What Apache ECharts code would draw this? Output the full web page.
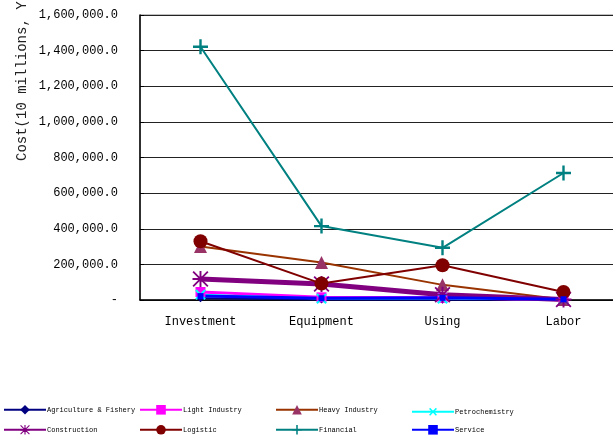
<!DOCTYPE html>
<html>
<head>
<meta charset="utf-8">
<script src="https://cdn.jsdelivr.net/npm/echarts@6/dist/echarts.min.js"></script>
<style>
  html, body { margin: 0; padding: 0; background: #fff; }
  #chart { width: 613px; height: 435px; }
</style>
</head>
<body>
<div id="chart"></div>
<script>
// categories on the x axis
var categories = ['Investment', 'Equipment', 'Using', 'Labor'];

// series values
var agriculture  = [10000, 3000, 2000, 1000];
var lightInd     = [45000, 15000, 12000, 2000];
var heavyInd     = [300000, 210000, 85000, 3000];
var petrochem    = [30000, 8000, 8000, 3000];
var construction = [118000, 90000, 30000, 3000];
var logistic     = [330000, 92000, 195000, 45000];
var financial    = [1422000, 415000, 293000, 713000];
var service      = [22000, 10000, 12000, 4000];

var names = ['Agriculture & Fishery', 'Light Industry', 'Heavy Industry', 'Petrochemistry',
             'Construction', 'Logistic', 'Financial', 'Service'];

var FONT = 'Liberation Mono';
var plusPath = 'path://M4.2,0 H5.8 V4.2 H10 V5.8 H5.8 V10 H4.2 V5.8 H0 V4.2 H4.2 Z';
var starPath = 'path://M4.4,0 H5.6 V4.4 H10 V5.6 H5.6 V10 H4.4 V5.6 H0 V4.4 H4.4 Z' +
               'M0.8,0 L5,4.2 L9.2,0 L10,0.8 L5.8,5 L10,9.2 L9.2,10 L5,5.8 L0.8,10 L0,9.2 L4.2,5 L0,0.8 Z';

function line(name, data, color, width, symbol, size, extra) {
    var s = {
        name: name,
        type: 'line',
        data: data,
        symbol: symbol,
        symbolSize: size,
        lineStyle: { color: color, width: width },
        itemStyle: { color: color },
        emphasis: { disabled: true }
    };
    for (var k in extra) s[k] = extra[k];
    return s;
}

var series = [
    line(names[0], agriculture, '#000080', 2, 'diamond', 8),
    line(names[1], lightInd, '#ff00ff', 3, 'rect', 10),
    line(names[2], heavyInd, '#993300', 2, 'triangle', 13, { itemStyle: { color: '#993366' } }),
    line(names[3], petrochem, '#00ffff', 2, plusPath, 13, { symbolRotate: 45 }),
    line(names[4], construction, '#800080', 5, starPath, 16),
    line(names[5], logistic, '#800000', 2, 'circle', 14),
    line(names[6], financial, '#008080', 2, plusPath, 15),
    line(names[7], service, '#0000ff', 3, 'rect', 6)
];

// one legend per item so they sit in fixed columns
var legends = names.map(function (n, i) {
    return {
        data: [n],
        left: 3 + (i % 4) * 136,
        top: i < 4 ? 405 : 425,
        itemWidth: 42,
        itemHeight: 12,
        padding: 0,
        selectedMode: false,
        textStyle: { fontFamily: FONT, fontSize: 7, color: '#000', padding: [0, 0, 0, -4] }
    };
});

var chart = echarts.init(document.getElementById('chart'));
chart.setOption({
    animation: false,
    backgroundColor: '#fff',
    // plot runs past the right edge of the canvas, as in the reference
    grid: {
        left: 140, top: 15, width: 484, bottom: 135,
        containLabel: false, outerBoundsMode: 'none',
        show: true, borderColor: '#808080', borderWidth: 1
    },
    legend: legends,
    xAxis: {
        type: 'category',
        data: categories,
        boundaryGap: true,
        axisLine: { lineStyle: { color: '#000', width: 1.5 } },
        axisTick: { show: false },
        axisLabel: { fontFamily: FONT, fontSize: 12, color: '#000', margin: 16 }
    },
    yAxis: {
        type: 'value',
        min: 0,
        max: 1600000,
        interval: 200000,
        axisLine: { show: true, lineStyle: { color: '#000', width: 1.5 } },
        axisTick: { show: true, inside: true, length: 4, lineStyle: { color: '#000' } },
        splitLine: { lineStyle: { color: '#222', width: 1 } },
        axisLabel: {
            fontFamily: FONT, fontSize: 12, color: '#000', margin: 22,
            formatter: function (v) {
                return v === 0 ? '-' : v.toLocaleString('en-US', { minimumFractionDigits: 1, maximumFractionDigits: 1 });
            }
        }
    },
    graphic: [{
        type: 'text',
        x: 22,
        y: 161,
        rotation: Math.PI / 2,
        style: { text: 'Cost(10 millions, Yuan)', fontFamily: FONT, fontSize: 14, fill: '#222', textAlign: 'left', textVerticalAlign: 'middle' }
    }],
    series: series
});
</script>
</body>
</html>
